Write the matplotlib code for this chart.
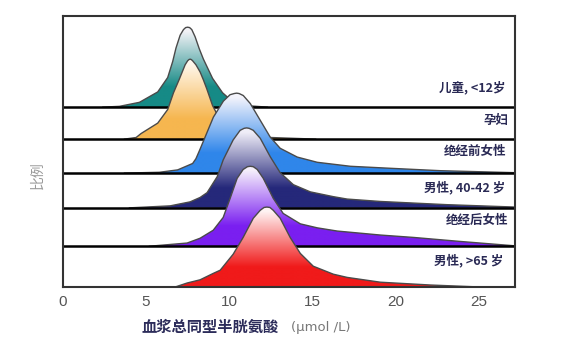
import numpy as np
import matplotlib
matplotlib.use('Agg')
import matplotlib.pyplot as plt
from matplotlib.colors import LinearSegmentedColormap

plt.rcParams['font.family'] = ['Noto Sans CJK SC', 'DejaVu Sans']

# ---- data (x in umol/L, height relative to peak) ----
groups = ['儿童, <12岁', '孕妇', '绝经前女性', '男性, 40-42 岁', '绝经后女性', '男性, >65 岁']

x_child = [2.4, 3.4, 4.6, 5.7, 6.3, 6.6, 6.8, 7.05, 7.25, 7.38, 7.5, 7.62, 7.75, 7.95, 8.2, 8.45, 9.0, 9.6, 10.2, 11.3, 12.3]
h_child = [0, 0.01, 0.06, 0.19, 0.37, 0.57, 0.74, 0.9, 0.97, 0.995, 1.0, 0.995, 0.97, 0.88, 0.73, 0.6, 0.36, 0.18, 0.07, 0.015, 0]

x_preg = [3.7, 4.4, 4.7, 5.7, 6.3, 6.65, 7.0, 7.35, 7.5, 7.58, 7.65, 7.72, 7.8, 8.0, 8.25, 8.45, 8.65, 9.0, 9.5, 10.1, 10.9, 12.5, 15.2]
h_preg = [0, 0.02, 0.07, 0.2, 0.37, 0.58, 0.75, 0.93, 0.98, 0.995, 1.0, 0.995, 0.98, 0.93, 0.84, 0.74, 0.63, 0.42, 0.22, 0.11, 0.05, 0.02, 0]

x_pre = [3.7, 5.8, 6.9, 7.8, 8.0, 8.25, 8.65, 9.05, 9.65, 10.05, 10.3, 10.45, 10.6, 10.85, 11.27, 11.87, 12.47, 13.07, 14.1, 15.3, 17.3, 19.7, 22.7, 27.2]
h_pre = [0, 0.01, 0.04, 0.12, 0.18, 0.3, 0.5, 0.7, 0.9, 0.98, 0.995, 1.0, 0.995, 0.97, 0.87, 0.66, 0.45, 0.31, 0.2, 0.135, 0.085, 0.06, 0.03, 0.005]

x_men40 = [4.0, 6.45, 7.65, 8.25, 8.67, 9.28, 9.64, 10.24, 10.66, 10.9, 11.05, 11.2, 11.45, 11.87, 12.47, 13.07, 13.86, 14.88, 16.27, 17.1, 19.1, 21.1, 23.1, 27.2]
h_men40 = [0, 0.025, 0.075, 0.13, 0.19, 0.39, 0.6, 0.85, 0.97, 0.995, 1.0, 0.995, 0.97, 0.87, 0.64, 0.44, 0.29, 0.2, 0.14, 0.11, 0.08, 0.06, 0.04, 0.01]

x_post = [5.2, 7.47, 8.25, 9.04, 9.64, 10.06, 10.48, 10.84, 11.1, 11.27, 11.45, 11.69, 12.05, 12.65, 13.25, 14.28, 15.3, 16.5, 19.1, 21.1, 23.9, 27.2]
h_post = [0, 0.04, 0.1, 0.2, 0.36, 0.6, 0.85, 0.96, 0.995, 1.0, 0.995, 0.96, 0.85, 0.6, 0.41, 0.28, 0.23, 0.19, 0.14, 0.11, 0.06, 0.005]

x_men65 = [6.75, 7.47, 8.25, 9.04, 9.46, 10.24, 10.84, 11.45, 11.87, 12.1, 12.27, 12.45, 12.65, 13.07, 13.67, 14.28, 15.06, 16.27, 17.1, 19.1, 22.1, 25.1]
h_men65 = [0, 0.05, 0.09, 0.17, 0.21, 0.41, 0.62, 0.86, 0.96, 0.995, 1.0, 0.995, 0.96, 0.86, 0.62, 0.42, 0.26, 0.16, 0.12, 0.06, 0.025, 0]

xs_all = [x_child, x_preg, x_pre, x_men40, x_post, x_men65]
hs_all = [h_child, h_preg, h_pre, h_men40, h_post, h_men65]

# ---- layout / style ----
offsets = [2.25, 1.85, 1.425, 0.99, 0.51, 0.0]
bottoms = ['#168a86', '#f6b64f', '#2f86ea', '#25287a', '#7a1ff0', '#f01a1a']
tops = ['#f2f2f6', '#fff8ee', '#f4f4fc', '#f0eef8', '#f6f0fc', '#fff4f4']
label_pos = [(26.6, 2.49), (26.8, 2.08), (26.7, 1.69), (26.6, 1.25), (26.8, 0.83), (26.5, 0.33)]
XMAX, YMAX = 27.2, 3.39

fig = plt.figure(figsize=(5.85, 3.62), dpi=100)
ax = fig.add_axes([63/585, 75/362, 452/585, 271/362])

grad = np.linspace(0, 1, 256).reshape(-1, 1)
for i, (xs, hs) in enumerate(zip(xs_all, hs_all)):
    off = offsets[i]
    xs = np.array(xs)
    ys = off + np.array(hs)
    z = 2 + i * 4
    cmap = LinearSegmentedColormap.from_list(
        'g%d' % i, [(0, bottoms[i]), (0.25, bottoms[i]), (0.95, tops[i]), (1, tops[i])])
    poly = ax.fill(np.r_[xs, xs[::-1]], np.r_[ys, np.full(len(xs), off)],
                   facecolor='none', edgecolor='none', zorder=z)[0]
    im = ax.imshow(grad, cmap=cmap, origin='lower', aspect='auto',
                   extent=[0, XMAX, off, off + 1.0], zorder=z)
    im.set_clip_path(poly)
    ax.plot(xs, ys, color='#4a4a4a', lw=1.0, zorder=z + 1)
    ax.axhline(off, color='black', lw=1.8, zorder=z + 2)
    lx, ly = label_pos[i]
    ax.text(lx, ly, groups[i], ha='right', va='center', fontsize=9,
            fontweight='bold', color='#2a2a55', zorder=60)

ax.set_xlim(0, XMAX)
ax.set_ylim(0, YMAX)
ax.set_xticks([0, 5, 10, 15, 20, 25])
ax.set_yticks([])
ax.tick_params(axis='x', length=0, pad=6, labelsize=11, labelcolor='#555555')
for t in ax.get_xticklabels():
    t.set_fontfamily('Liberation Sans')
for s in ax.spines.values():
    s.set_color('#333333')
    s.set_linewidth(1.5)
    s.set_zorder(70)

fig.text(38/585, 1 - 175/362, '比例', rotation=90, color='#9a9a9a',
         fontsize=10, ha='center', va='center')
fig.text(142/585, 1 - 327/362, '血浆总同型半胱氨酸', fontsize=11,
         fontweight='bold', color='#2c2c5a', va='center')
fig.text(291/585, 1 - 327/362, '(μmol /L)', fontsize=9.5, color='#777777',
         va='center', family='DejaVu Sans')

fig.savefig('out.png', dpi=100)
